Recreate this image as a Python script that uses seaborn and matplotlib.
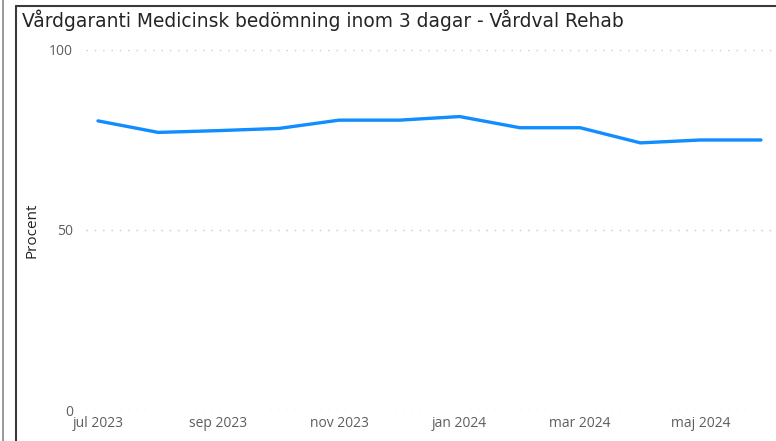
import matplotlib
matplotlib.use("Agg")
import matplotlib.pyplot as plt
from matplotlib.lines import Line2D
import seaborn as sns
import pandas as pd

# ── Data ──────────────────────────────────────────────────────────────────────
months = ["jul 2023", "aug 2023", "sep 2023", "okt 2023", "nov 2023", "dec 2023",
          "jan 2024", "feb 2024", "mar 2024", "apr 2024", "maj 2024", "jun 2024"]
procent = [80.2, 77.0, 77.5, 78.1, 80.4, 80.4, 81.4, 78.3, 78.3, 74.1, 74.9, 74.9]
tick_labels = ["jul 2023", "sep 2023", "nov 2023", "jan 2024", "mar 2024", "maj 2024"]
y_ticks = [0, 50, 100]

TITLE = "Vårdgaranti Medicinsk bedömning inom 3 dagar - Vårdval Rehab"

df = pd.DataFrame({"idx": range(len(months)), "month": months, "Procent": procent})

# ── Style ─────────────────────────────────────────────────────────────────────
sns.set_style("white")
plt.rcParams["font.family"] = ["Open Sans", "DejaVu Sans"]

fig = plt.figure(figsize=(7.76, 4.41), dpi=100)
ax = fig.add_axes([86 / 776, 31 / 441, 690 / 776, 360.5 / 441])

sns.lineplot(data=df, x="idx", y="Procent", ax=ax, color="#118DFF",
             linewidth=2.4, solid_capstyle="round", solid_joinstyle="round")

ax.set_xlim(-0.199, 11.25)
ax.set_ylim(0, 100)

tick_pos = [months.index(m) for m in tick_labels]
ax.set_xticks(tick_pos)
ax.set_xticklabels(tick_labels)
ax.set_yticks(y_ticks)

ax.tick_params(axis="x", length=0, pad=4, labelsize=10, labelcolor="#605E5C")
ax.tick_params(axis="y", length=0, pad=9.5, labelsize=10, labelcolor="#605E5C")

ax.grid(axis="y", linestyle=(0, (1, 5)), color="#C8C6C4", linewidth=1)
ax.grid(axis="x", visible=False)
for s in ax.spines.values():
    s.set_visible(False)

ax.set_xlabel("")
ax.set_ylabel("Procent", fontsize=11, color="#252423")
ax.yaxis.set_label_coords(-0.0667, 0.5)

fig.text(22 / 776, 1 - 20 / 441, TITLE, fontsize=13.4, color="#252423",
         va="center", ha="left", family=["DejaVu Sans"])

# panel borders
fig.add_artist(Line2D([3 / 776, 3 / 776], [0, 1], color="#8A8886", linewidth=1.2))
fig.add_artist(Line2D([16 / 776, 16 / 776], [0, 1 - 6 / 441], color="#3B3A39", linewidth=1.5))
fig.add_artist(Line2D([16 / 776, 1], [1 - 6 / 441, 1 - 6 / 441], color="#3B3A39", linewidth=1.5))

fig.savefig("out.png", dpi=100)
